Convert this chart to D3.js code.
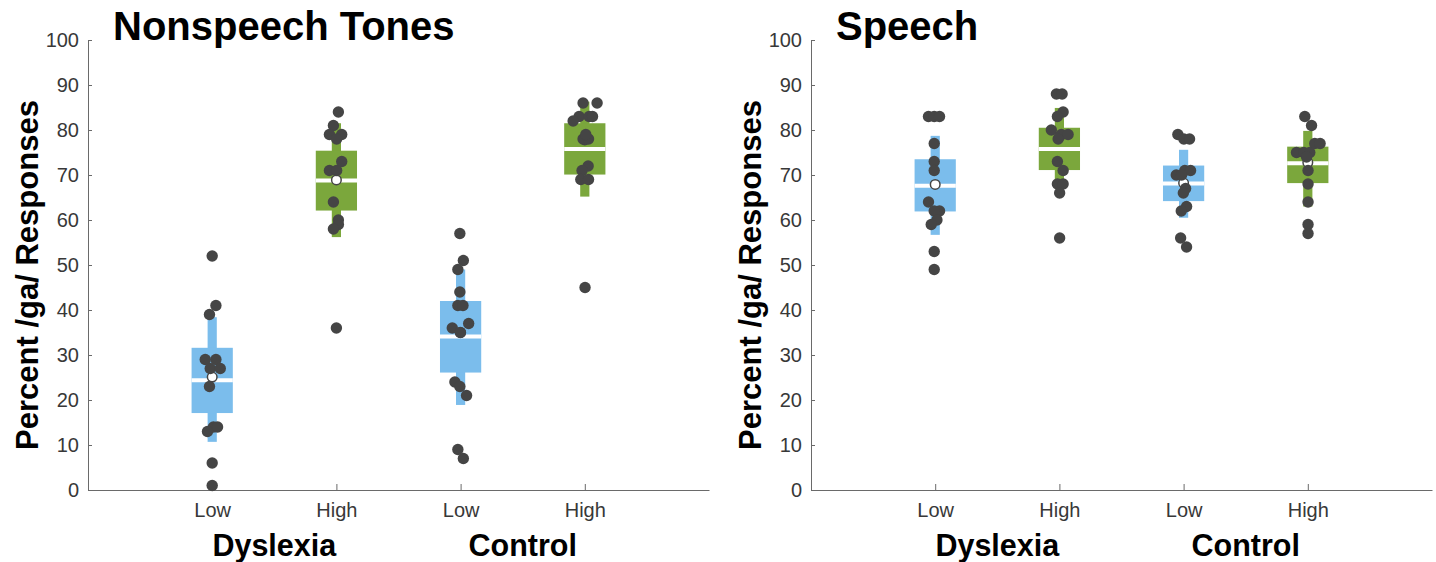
<!DOCTYPE html>
<html>
<head>
<meta charset="utf-8">
<script src="https://cdn.jsdelivr.net/npm/d3@7"></script>
<style>
  body { margin: 0; background: #fff; }
  svg { display: block; font-family: "Liberation Sans", Arial, Helvetica, sans-serif; }
  .tick text { fill: #383838; }
</style>
</head>
<body>
<div id="chart"></div>
<script>
// Categories
var groups = ["Dyslexia", "Control"];
var levels = ["Low", "High", "Low", "High"];
var panelTitles = ["Nonspeech Tones", "Speech"];
var yTicks = [0, 10, 20, 30, 40, 50, 60, 70, 80, 90, 100];

// Nonspeech tones: individual scores (% /ga/) and horizontal jitter (category units)
var toneDysLow = [52, 41, 39, 29, 29, 27, 27, 23, 14, 14, 13, 6, 1];
var toneDysLowJit = [0, 0.03, -0.022, -0.056, 0.03, -0.016, 0.065, -0.022, 0.01, 0.043, -0.038, 0, 0];
var toneDysHigh = [84, 81, 79, 79, 78, 73, 71, 71, 64, 60, 59, 58, 36];
var toneDysHighJit = [0.016, -0.024, -0.056, 0.043, 0.002, 0.043, -0.056, 0.002, -0.024, 0.016, 0.016, -0.024, 0];
var toneConLow = [57, 51, 49, 44, 41, 41, 37, 36, 35, 24, 23, 21, 9, 7];
var toneConLowJit = [-0.006, 0.022, -0.022, -0.006, -0.022, 0.019, 0.065, -0.067, -0.002, -0.046, -0.006, 0.048, -0.022, 0.022];
var toneConHigh = [86, 86, 83, 83, 83, 82, 78, 78, 79, 72, 71, 69, 69, 45];
var toneConHighJit = [-0.014, 0.099, -0.046, 0.035, 0.062, -0.094, -0.014, 0.03, 0.008, 0.027, -0.022, -0.032, 0.03, 0.002];

// Speech
var speechDysLow = [83, 83, 83, 77, 73, 71, 64, 62, 62, 60, 59, 53, 49];
var speechDysLowJit = [-0.054, -0.008, 0.035, -0.008, -0.008, -0.008, -0.054, 0.035, -0.008, 0.014, -0.032, -0.008, -0.008];
var speechDysHigh = [88, 88, 84, 83, 80, 79, 79, 78, 73, 71, 68, 68, 66, 56];
var speechDysHighJit = [-0.024, 0.022, 0.03, -0.016, -0.065, 0.016, 0.07, -0.01, -0.016, 0.03, -0.016, 0.03, 0.002, 0.002];
var speechConLow = [79, 78, 78, 71, 71, 70, 70, 67, 66, 63, 62, 56, 54];
var speechConLowJit = [-0.046, 0.002, 0.048, 0.01, 0.056, -0.059, -0.016, 0.016, -0.002, 0.024, -0.019, -0.024, 0.024];
var speechConHigh = [83, 81, 77, 77, 75, 75, 75, 74, 71, 68, 64, 59, 57];
var speechConHighJit = [-0.024, 0.03, 0.056, 0.099, -0.091, -0.032, 0.016, -0.01, 0.002, 0.002, 0.002, 0.002, 0.002];

// Box summaries: [whisker low, q1, median, q3, whisker high, mean]
var toneBoxes = [
  [10.7, 17.1, 24.4, 31.6, 38.4, 25.1],
  [56.2, 62.1, 68.8, 75.4, 81.5, 68.9],
  [18.9, 26.1, 34.1, 42.0, 49.0, 35.0],
  [65.2, 70.1, 75.8, 81.5, 86.3, 77.8]
];
var speechBoxes = [
  [56.7, 61.9, 67.6, 73.5, 78.7, 67.9],
  [67.0, 71.1, 75.8, 80.5, 84.9, 78.5],
  [60.5, 64.2, 68.1, 72.1, 75.6, 68.2],
  [63.0, 68.2, 72.6, 76.3, 79.8, 72.8]
];

var panels = [
  {
    title: panelTitles[0],
    boxes: toneBoxes,
    points: [toneDysLow, toneDysHigh, toneConLow, toneConHigh],
    jitter: [toneDysLowJit, toneDysHighJit, toneConLowJit, toneConHighJit]
  },
  {
    title: panelTitles[1],
    boxes: speechBoxes,
    points: [speechDysLow, speechDysHigh, speechConLow, speechConHigh],
    jitter: [speechDysLowJit, speechDysHighJit, speechConLowJit, speechConHighJit]
  }
];

// Layout
var width = 1436;
var height = 562;
var plotTop = 40;
var plotBottom = 490;
var panelLeft = [88, 811];
var panelWidth = 621;
var boxColors = ["#7bbdec", "#7ba73c", "#7bbdec", "#7ba73c"];
var dotColor = "#454545";

var svg = d3
  .select("#chart")
  .append("svg")
  .attr("width", width)
  .attr("height", height);

var yScale = d3.scaleLinear()
  .domain([0, 100])
  .range([plotBottom, plotTop]);

panels.forEach(function(panel, p) {
  var x0 = panelLeft[p];

  var xScale = d3.scaleLinear()
    .domain([0, 5])
    .range([x0, x0 + panelWidth]);

  var g = svg.append("g").attr("class", "panel");

  // axes (MATLAB style: ticks pointing in)
  var yAxis = d3.axisLeft(yScale)
    .tickValues(yTicks)
    .tickSizeInner(-4)
    .tickSizeOuter(0)
    .tickPadding(9);

  g.append("g")
    .attr("class", "yAxis")
    .attr("transform", "translate(" + x0 + ",0)")
    .call(yAxis)
    .attr("font-size", 20);

  var xAxis = d3.axisBottom(xScale)
    .tickValues([1, 2, 3, 4])
    .tickFormat(function(d, i) { return levels[i]; })
    .tickSizeInner(-6)
    .tickSizeOuter(0)
    .tickPadding(13);

  g.append("g")
    .attr("class", "xAxis")
    .attr("transform", "translate(0," + plotBottom + ")")
    .call(xAxis)
    .attr("font-size", 20);

  g.selectAll(".domain, .tick line").attr("stroke", "#6a6a6a");

  // group labels
  g.selectAll("text.groupLabel")
    .data(groups)
    .enter()
    .append("text")
    .attr("class", "groupLabel")
    .attr("x", function(d, i) { return xScale(1.5 + 2 * i); })
    .attr("y", 556)
    .attr("text-anchor", "middle")
    .attr("font-size", 30.5)
    .attr("font-weight", "bold")
    .attr("fill", "#000")
    .text(function(d) { return d; });

  // title
  g.append("text")
    .attr("x", x0 + 25)
    .attr("y", 40)
    .attr("font-size", 40)
    .attr("font-weight", "bold")
    .attr("fill", "#000")
    .text(panel.title);

  // y label
  g.append("text")
    .attr("transform", "translate(" + (x0 - 50) + "," + 275 + ") rotate(-90)")
    .attr("text-anchor", "middle")
    .attr("font-size", 31)
    .attr("font-weight", "bold")
    .attr("fill", "#000")
    .text("Percent /ga/ Responses");

  var boxHalf = 0.166;
  var whiskHalf = 0.037;

  panel.boxes.forEach(function(b, i) {
    var c = i + 1;
    var bg = g.append("g").attr("class", "cond");

    // whisker bar
    bg.append("rect")
      .attr("x", xScale(c - whiskHalf))
      .attr("width", xScale(c + whiskHalf) - xScale(c - whiskHalf))
      .attr("y", yScale(b[4]))
      .attr("height", yScale(b[0]) - yScale(b[4]))
      .attr("fill", boxColors[i]);

    // IQR box
    bg.append("rect")
      .attr("x", xScale(c - boxHalf))
      .attr("width", xScale(c + boxHalf) - xScale(c - boxHalf))
      .attr("y", yScale(b[3]))
      .attr("height", yScale(b[1]) - yScale(b[3]))
      .attr("fill", boxColors[i]);

    // median
    bg.append("line")
      .attr("x1", xScale(c - boxHalf))
      .attr("x2", xScale(c + boxHalf))
      .attr("y1", yScale(b[2]))
      .attr("y2", yScale(b[2]))
      .attr("stroke", "#fff")
      .attr("stroke-width", 4);

    // mean
    bg.append("circle")
      .attr("cx", xScale(c))
      .attr("cy", yScale(b[5]))
      .attr("r", 4.8)
      .attr("fill", "#fff")
      .attr("stroke", dotColor)
      .attr("stroke-width", 1.5);

    // individual subjects
    var jit = panel.jitter[i];
    bg.selectAll("circle.dot")
      .data(panel.points[i])
      .enter()
      .append("circle")
      .attr("class", "dot")
      .attr("cx", function(d, k) { return xScale(c + jit[k]); })
      .attr("cy", function(d) { return yScale(d); })
      .attr("r", 5.7)
      .attr("fill", dotColor);
  });
});
</script>
</body>
</html>
